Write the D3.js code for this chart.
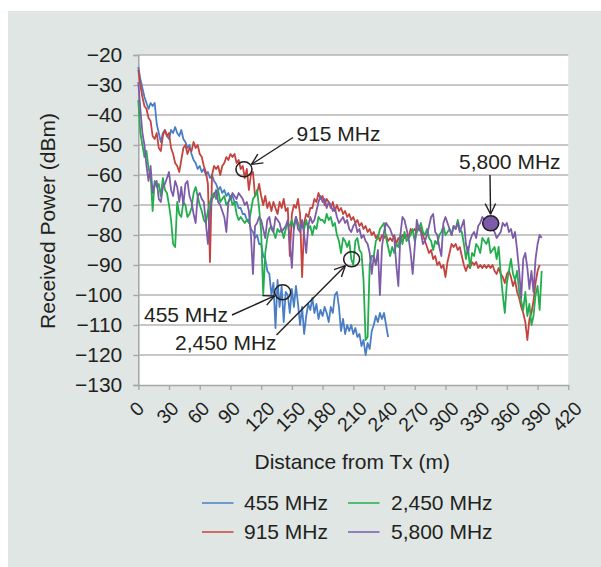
<!DOCTYPE html>
<html>
<head>
<meta charset="utf-8">
<script src="https://cdn.jsdelivr.net/npm/d3@7/dist/d3.min.js"></script>
<style>
  html, body { margin: 0; padding: 0; background: #ffffff; }
  svg { display: block; }
  text { font-family: "Liberation Sans", Arial, Helvetica, sans-serif; fill: #231f20; }
</style>
</head>
<body>
<svg id="chart" width="601" height="567"></svg>
<script>
// Received power (dBm) along the route, one sample every 2 m from the transmitter
const SAMPLE_STEP_M = 2;

const p455 = [
  -24,-28,-31,-34,-36,-38,-36,-37,-36,-43,
  -46,-49,-46,-45,-47,-48,-45,-46,-44,-46,
  -47,-45,-48,-49,-51,-50,-53,-55,-56,-58,
  -57,-59,-58,-60,-59,-61,-60,-62,-63,-65,
  -64,-66,-65,-67,-66,-68,-67,-69,-69,-71,
  -71,-73,-73,-75,-75,-78,-79,-81,-80,-83,
  -83,-87,-88,-92,-93,-100,-96,-111,-95,-104,
  -97,-109,-99,-100,-106,-98,-104,-97,-103,-110,
  -104,-113,-107,-103,-105,-101,-106,-103,-108,-105,
  -107,-104,-106,-109,-104,-106,-100,-99,-104,-112,
  -108,-113,-110,-112,-110,-113,-111,-114,-113,-117,
  -115,-120,-116,-118,-112,-110,-107,-109,-106,-108,
  -106,-110,-114
];

const p915 = [
  -25,-30,-34,-37,-38,-41,-42,-47,-48,-46,
  -51,-52,-47,-45,-47,-46,-51,-53,-56,-57,
  -59,-55,-51,-50,-53,-51,-52,-49,-51,-50,
  -53,-54,-57,-59,-63,-89,-60,-57,-58,-57,
  -60,-57,-56,-54,-55,-53,-54,-53,-56,-55,
  -58,-57,-61,-58,-65,-60,-59,-67,-66,-63,
  -67,-70,-67,-71,-69,-72,-69,-71,-73,-69,
  -71,-68,-72,-71,-87,-73,-70,-71,-68,-73,
  -94,-76,-73,-74,-71,-71,-68,-69,-66,-68,
  -67,-70,-68,-69,-71,-69,-72,-70,-72,-71,
  -73,-72,-74,-73,-75,-74,-76,-75,-77,-76,
  -78,-77,-79,-78,-80,-79,-81,-80,-82,-80,
  -81,-80,-82,-81,-82,-80,-83,-81,-82,-80,
  -81,-80,-81,-78,-79,-78,-79,-77,-78,-80,
  -82,-84,-86,-85,-88,-87,-90,-89,-91,-90,
  -94,-89,-86,-83,-84,-83,-85,-84,-87,-90,
  -92,-90,-91,-89,-90,-89,-91,-90,-91,-90,
  -91,-90,-91,-90,-92,-93,-91,-93,-94,-96,
  -93,-92,-94,-97,-95,-99,-101,-104,-106,-109,
  -115,-108,-106,-102,-96,-92,-90
];

const p2450 = [
  -35,-46,-50,-54,-52,-58,-60,-72,-62,-64,
  -63,-67,-61,-65,-66,-70,-75,-83,-84,-69,
  -73,-74,-69,-70,-74,-73,-71,-66,-64,-67,
  -70,-72,-75,-76,-72,-69,-67,-66,-68,-65,
  -69,-68,-67,-70,-69,-67,-70,-69,-73,-75,
  -74,-75,-76,-75,-76,-72,-68,-67,-65,-71,
  -79,-100,-86,-81,-78,-77,-79,-81,-78,-79,
  -78,-81,-78,-76,-77,-75,-78,-74,-76,-78,
  -77,-78,-75,-78,-77,-80,-77,-78,-74,-75,
  -75,-76,-73,-75,-74,-77,-76,-80,-82,-86,
  -81,-82,-84,-82,-88,-90,-82,-81,-85,-86,
  -95,-115,-114,-90,-87,-87,-82,-81,-78,-77,
  -76,-81,-84,-87,-84,-86,-83,-84,-80,-83,
  -79,-82,-81,-80,-78,-82,-79,-78,-76,-79,
  -80,-78,-81,-82,-85,-82,-83,-80,-79,-77,
  -80,-79,-78,-80,-77,-78,-75,-78,-79,-83,
  -88,-84,-91,-86,-87,-83,-84,-86,-81,-82,
  -83,-81,-86,-85,-84,-88,-84,-93,-100,-106,
  -96,-92,-88,-93,-95,-92,-99,-102,-105,-99,
  -107,-103,-110,-107,-100,-97,-105,-92
];

const p5800 = [
  -29,-38,-46,-50,-57,-62,-57,-66,-63,-62,
  -68,-69,-64,-63,-61,-59,-65,-67,-62,-64,
  -69,-64,-70,-63,-62,-67,-69,-73,-76,-67,
  -66,-68,-69,-76,-83,-72,-68,-67,-65,-69,
  -70,-72,-74,-79,-69,-68,-66,-67,-68,-66,
  -67,-68,-70,-69,-72,-80,-93,-77,-76,-74,
  -75,-78,-81,-75,-74,-78,-79,-74,-75,-76,
  -79,-78,-77,-75,-82,-91,-77,-74,-78,-79,
  -75,-80,-86,-77,-74,-76,-75,-72,-69,-67,
  -69,-68,-71,-69,-70,-72,-71,-74,-76,-75,
  -74,-76,-75,-78,-79,-77,-76,-79,-78,-81,
  -80,-82,-83,-86,-93,-87,-90,-85,-100,-84,
  -79,-76,-77,-78,-80,-81,-90,-97,-80,-74,
  -75,-78,-81,-86,-93,-84,-75,-78,-79,-83,
  -82,-80,-77,-74,-73,-79,-80,-84,-87,-76,
  -74,-76,-78,-80,-77,-78,-76,-79,-77,-75,
  -83,-86,-82,-80,-79,-81,-77,-76,-74,-75,
  -76,-74,-76,-78,-79,-81,-80,-79,-76,-77,
  -76,-79,-78,-81,-79,-85,-92,-101,-88,-86,
  -91,-98,-92,-99,-88,-83,-80,-81
];

const seriesNames = ["455 MHz", "915 MHz", "2,450 MHz", "5,800 MHz"];
const seriesColors = ["#4a7ec4", "#c4433f", "#22ae4c", "#7c5ba8"];
const seriesValues = [p455, p915, p2450, p5800];

const xTicks = [0, 30, 60, 90, 120, 150, 180, 210, 240, 270, 300, 330, 360, 390, 420];
const yTicks = [-20, -30, -40, -50, -60, -70, -80, -90, -100, -110, -120, -130];

// Callouts: label, series index, distance (m) and power (dBm) of the circled point
const noteLabels = ["915 MHz", "5,800 MHz", "455 MHz", "2,450 MHz"];
const noteSeries = [1, 3, 0, 2];
const noteDist = [103.2, 344.2, 141, 208.4];
const notePower = [-58.1, -76.1, -99.1, -88.1];

const svg = d3.select("#chart");
const W = 601, H = 567;
const plot = { left: 138.3, right: 568.3, top: 55, bottom: 385 };
const ink = "#231f20";
const gridColor = "#b5b5b5";

// panel background
svg.append("rect").attr("x", 0).attr("y", 0).attr("width", W).attr("height", H).attr("fill", "#ffffff");
svg.append("rect").attr("x", 8).attr("y", 11).attr("width", W - 8).attr("height", H - 11).attr("fill", "#dfe6e4");
svg.append("rect")
  .attr("x", plot.left).attr("y", plot.top)
  .attr("width", plot.right - plot.left).attr("height", plot.bottom - plot.top)
  .attr("fill", "#ffffff");

const x = d3.scaleLinear().domain([0, 420]).range([plot.left, plot.right]);
const y = d3.scaleLinear().domain([-130, -20]).range([plot.bottom, plot.top]);

// horizontal gridlines
svg.append("g").selectAll("line").data(yTicks.filter(t => t !== -130)).join("line")
  .attr("x1", plot.left).attr("x2", plot.right)
  .attr("y1", d => y(d)).attr("y2", d => y(d))
  .attr("stroke", gridColor).attr("stroke-width", 1.6);

// y axis
const yAxis = svg.append("g").attr("transform", `translate(${plot.left},0)`)
  .call(d3.axisLeft(y).tickValues(yTicks).tickSize(5).tickPadding(11)
    .tickFormat(d => "\u2212" + Math.abs(d)));
yAxis.select(".domain").attr("stroke", "#a8a8a8").attr("stroke-width", 1.6);
yAxis.selectAll(".tick line").attr("stroke", "#a8a8a8").attr("stroke-width", 1.4);
yAxis.selectAll(".tick text")
  .attr("font-size", 21).attr("fill", ink)
  .attr("font-family", "'Liberation Sans', Arial, sans-serif");

// x axis
const xAxis = svg.append("g").attr("transform", `translate(0,${plot.bottom})`)
  .call(d3.axisBottom(x).tickValues(xTicks).tickSize(5).tickSizeOuter(0).tickFormat(""));
xAxis.select(".domain").attr("stroke", "#a8a8a8").attr("stroke-width", 1.6);
xAxis.selectAll(".tick line").attr("stroke", "#a8a8a8").attr("stroke-width", 1.4);

// rotated x tick labels, box centred under each tick
const xFont = 19.5;
const xLabelTop = 400;
xTicks.forEach(t => {
  const g = svg.append("g");
  const txt = g.append("text")
    .attr("text-anchor", "middle").attr("dy", "0.35em")
    .attr("font-size", xFont).text(String(t));
  const w = txt.node().getComputedTextLength();
  const cy = xLabelTop + (w + 0.716 * xFont) * 0.3536;
  g.attr("transform", `translate(${x(t) - 1.5},${cy}) rotate(-45)`);
});

// axis titles
svg.append("text")
  .attr("transform", "translate(48,221) rotate(-90)")
  .attr("text-anchor", "middle").attr("dy", "0.35em")
  .attr("font-size", 21).text("Received Power (dBm)");
svg.append("text")
  .attr("x", 352.3).attr("y", 462)
  .attr("text-anchor", "middle").attr("dy", "0.35em")
  .attr("font-size", 21).text("Distance from Tx (m)");

// traces
const line = d3.line()
  .x((v, i) => x(i * SAMPLE_STEP_M))
  .y(v => y(v));

const traces = svg.append("g");
seriesValues.forEach((vals, k) => {
  traces.append("path")
    .datum(vals)
    .attr("d", line)
    .attr("fill", "none")
    .attr("stroke", seriesColors[k])
    .attr("stroke-width", 1.8)
    .attr("stroke-linejoin", "round");
});

// callouts
function arrow(g, x1, y1, x2, y2) {
  g.append("line").attr("x1", x1).attr("y1", y1).attr("x2", x2).attr("y2", y2)
    .attr("stroke", ink).attr("stroke-width", 1.4);
  const a = Math.atan2(y2 - y1, x2 - x1);
  const len = 12, spread = 0.45;
  [a + Math.PI - spread, a + Math.PI + spread].forEach(b => {
    g.append("line")
      .attr("x1", x2).attr("y1", y2)
      .attr("x2", x2 + len * Math.cos(b)).attr("y2", y2 + len * Math.sin(b))
      .attr("stroke", ink).attr("stroke-width", 1.4);
  });
}

const notes = svg.append("g");
// text anchor (start x, baseline y) and arrow tail for each callout
const noteText = [[296.5, 140.5], [459, 169], [144, 321.5], [175, 349.5]];
const noteTail = [[293, 137.5], [490, 175], [232, 315], [276.5, 335]];

noteLabels.forEach((lab, k) => {
  const cx = x(noteDist[k]), cy = y(notePower[k]);
  const filled = k === 1;
  notes.append("ellipse")
    .attr("cx", cx).attr("cy", cy).attr("rx", 8).attr("ry", 7.5)
    .attr("fill", filled ? seriesColors[noteSeries[k]] : "none")
    .attr("stroke", ink).attr("stroke-width", 1.6);
  // arrow tip stops at the rim of the circle
  const [tx, ty] = noteTail[k];
  const ang = Math.atan2(cy - ty, cx - tx);
  const tipX = cx - 9 * Math.cos(ang), tipY = cy - 9 * Math.sin(ang);
  arrow(notes, tx, ty, tipX, tipY);
  notes.append("text")
    .attr("x", noteText[k][0]).attr("y", noteText[k][1])
    .attr("font-size", 21).text(lab);
});

// legend
const legendCols = [[202, 244], [348, 391]];
const legendRows = [502.5, 531.5];
const legendPos = [[0, 0], [0, 1], [1, 0], [1, 1]];
seriesNames.forEach((name, k) => {
  const [c, r] = legendPos[k];
  const ly = legendRows[r];
  svg.append("line")
    .attr("x1", legendCols[c][0]).attr("x2", legendCols[c][0] + 31.5)
    .attr("y1", ly + 0.5).attr("y2", ly + 0.5)
    .attr("stroke", seriesColors[k]).attr("stroke-width", 1.5);
  svg.append("text")
    .attr("x", legendCols[c][1]).attr("y", ly)
    .attr("dy", "0.35em").attr("font-size", 21).text(name);
});
</script>
</body>
</html>
